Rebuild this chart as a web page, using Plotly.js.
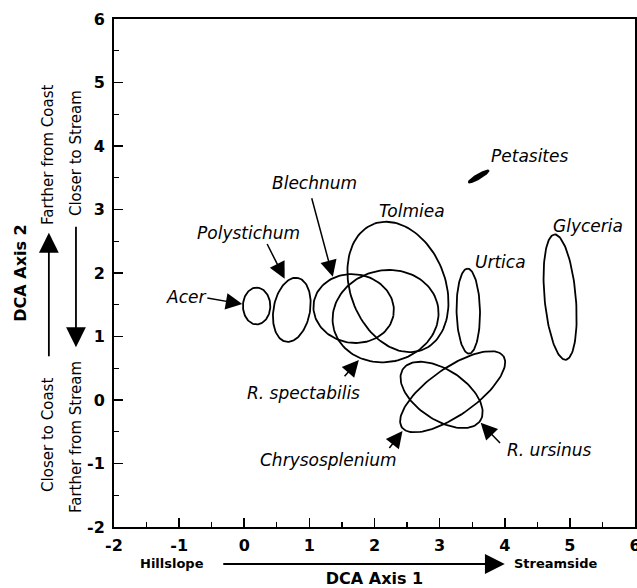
<!DOCTYPE html>
<html>
<head>
<meta charset="utf-8">
<script src="https://cdn.plot.ly/plotly-3.0.1.min.js"></script>
<style>html,body{margin:0;padding:0;background:#fff;}#chart{width:637px;height:588px;}</style>
</head>
<body>
<div id="chart"></div>
<script>
// ---- Data: species ellipses in DCA space ----
const species   = ['Acer','Polystichum','Blechnum','R. spectabilis','Tolmiea','Urtica','Glyceria','Petasites','Chrysosplenium','R. ursinus'];
const centerX   = [0.19, 0.73, 1.68, 2.17, 2.36, 3.44, 4.85, 3.60, 3.20, 3.03];
const centerY   = [1.48, 1.42, 1.44, 1.32, 1.78, 1.40, 1.62, 3.52, 0.13, 0.08];
const semiMajor = [0.29, 0.51, 0.62, 0.82, 1.06, 0.67, 0.99, 0.18, 0.96, 0.72];
const semiMinor = [0.21, 0.28, 0.54, 0.72, 0.73, 0.18, 0.24, 0.035, 0.37, 0.39];
const angleDeg  = [90, 80, -10, 15, 110, 91, 95, 31, 36, -35];
const filled    = [false,false,false,false,false,false,false,true,false,false];

// Label positions (data coords) and optional arrow tail/tip
const labelText = ['Acer','Polystichum','Blechnum','Tolmiea','Petasites','Glyceria','Urtica','R. spectabilis','Chrysosplenium','R. ursinus'];
const labelX    = [-0.90, 0.07, 1.08, 2.57, 4.38, 5.28, 3.93, 0.91, 1.30, 4.69];
const labelY    = [1.62, 2.63, 3.42, 2.98, 3.85, 2.74, 2.18, 0.11, -0.95, -0.79];
const arrowTailX = [-0.59, 0.34, 1.03, null, null, null, null, 1.52, 2.21, 3.95];
const arrowTailY = [1.61, 2.48, 3.20, null, null, null, null, 0.35, -0.78, -0.70];
const arrowTipX  = [-0.03, 0.62, 1.36, null, null, null, null, 1.76, 2.43, 3.63];
const arrowTipY  = [1.51, 1.91, 1.94, null, null, null, null, 0.63, -0.49, -0.36];

const tickVals = [-2,-1,0,1,2,3,4,5,6];

// ---- Build ellipse outlines from their parameters ----
function ellipse(cx, cy, a, b, deg) {
  const t = deg * Math.PI / 180, xs = [], ys = [];
  for (let i = 0; i <= 120; i++) {
    const p = 2 * Math.PI * i / 120;
    const u = a * Math.cos(p), v = b * Math.sin(p);
    xs.push(cx + u * Math.cos(t) - v * Math.sin(t));
    ys.push(cy + u * Math.sin(t) + v * Math.cos(t));
  }
  return {xs, ys};
}

const traces = species.map((name, i) => {
  const e = ellipse(centerX[i], centerY[i], semiMajor[i], semiMinor[i], angleDeg[i]);
  return {
    x: e.xs, y: e.ys, name: name, type: 'scatter', mode: 'lines',
    line: {color: '#000', width: filled[i] ? 1.5 : 1.8},
    fill: filled[i] ? 'toself' : 'none', fillcolor: '#000',
    hoverinfo: 'skip', showlegend: false
  };
});

const labelFont = {family: 'DejaVu Sans', size: 17, style: 'italic', color: '#000'};
const sideFont = {family: 'DejaVu Sans', size: 15, color: '#000'};
const annotations = [];
labelText.forEach((t, i) => {
  annotations.push({x: labelX[i], y: labelY[i], xref: 'x', yref: 'y', text: t,
    showarrow: false, font: labelFont, xanchor: 'center', yanchor: 'middle'});
  if (arrowTipX[i] !== null) {
    annotations.push({x: arrowTipX[i], y: arrowTipY[i], xref: 'x', yref: 'y',
      ax: arrowTailX[i], ay: arrowTailY[i], axref: 'x', ayref: 'y', text: '',
      showarrow: true, arrowhead: 2, arrowsize: 2.2, arrowwidth: 1.5, arrowcolor: '#000'});
  }
});

// Outside-plot direction labels and arrows (paper coords)
function sideLabel(x, y, text, font, angle) {
  return {x: x, y: y, xref: 'paper', yref: 'paper', text: text, textangle: angle || 0,
    showarrow: false, font: font, xanchor: 'center', yanchor: 'middle'};
}
const boldSmall = {family: 'DejaVu Sans', size: 13, weight: 'bold', color: '#000'};
annotations.push(
  sideLabel(0.111, -0.0728, 'Hillslope', boldSmall),
  sideLabel(0.848, -0.0728, 'Streamside', boldSmall),
  {x: 0.750, y: -0.0728, xref: 'paper', yref: 'paper', ax: -283, ay: 0, text: '',
   showarrow: true, arrowhead: 2, arrowsize: 2.2, arrowwidth: 1.8, arrowcolor: '#000'},
  sideLabel(-0.127, 0.732, 'Farther from Coast', sideFont, -90),
  sideLabel(-0.127, 0.181, 'Closer to Coast', sideFont, -90),
  sideLabel(-0.073, 0.736, 'Closer to Stream', sideFont, -90),
  sideLabel(-0.073, 0.177, 'Farther from Stream', sideFont, -90),
  {x: -0.125, y: 0.579, xref: 'paper', yref: 'paper', ax: 0, ay: 125, text: '',
   showarrow: true, arrowhead: 2, arrowsize: 2.2, arrowwidth: 1.8, arrowcolor: '#000'},
  {x: -0.073, y: 0.354, xref: 'paper', yref: 'paper', ax: 0, ay: -122, text: '',
   showarrow: true, arrowhead: 2, arrowsize: 2.2, arrowwidth: 1.8, arrowcolor: '#000'}
);

const tickFont = {family: 'DejaVu Sans', size: 16, weight: 'bold', color: '#000'};
const axisCommon = {
  range: [-2, 6], tickvals: tickVals, ticktext: tickVals.map(String),
  ticks: 'inside', ticklen: 9, tickwidth: 1.6, tickcolor: '#000',
  minor: {dtick: 0.5, tick0: 0, ticks: 'inside', ticklen: 5, tickwidth: 1.3, tickcolor: '#000'},
  showline: true, linecolor: '#000', linewidth: 2, mirror: true,
  showgrid: false, zeroline: false, tickfont: tickFont, fixedrange: true
};

const layout = {
  width: 637, height: 588,
  margin: {l: 114, r: 2, t: 19, b: 61},
  paper_bgcolor: '#fff', plot_bgcolor: '#fff',
  showlegend: false, hovermode: false,
  xaxis: Object.assign({}, axisCommon, {
    ticklabelstandoff: 3, ticklabeloverflow: 'allow',
    title: {text: 'DCA Axis 1', standoff: 19, font: {family: 'DejaVu Sans', size: 16, weight: 'bold', color: '#000'}}
  }),
  yaxis: Object.assign({}, axisCommon, {
    ticklabelstandoff: 4,
    title: {text: 'DCA Axis 2', standoff: 56, font: {family: 'DejaVu Sans', size: 16, weight: 'bold', color: '#000'}}
  }),
  annotations: annotations
};

Plotly.newPlot('chart', traces, layout, {displayModeBar: false, staticPlot: true});
</script>
</body>
</html>
